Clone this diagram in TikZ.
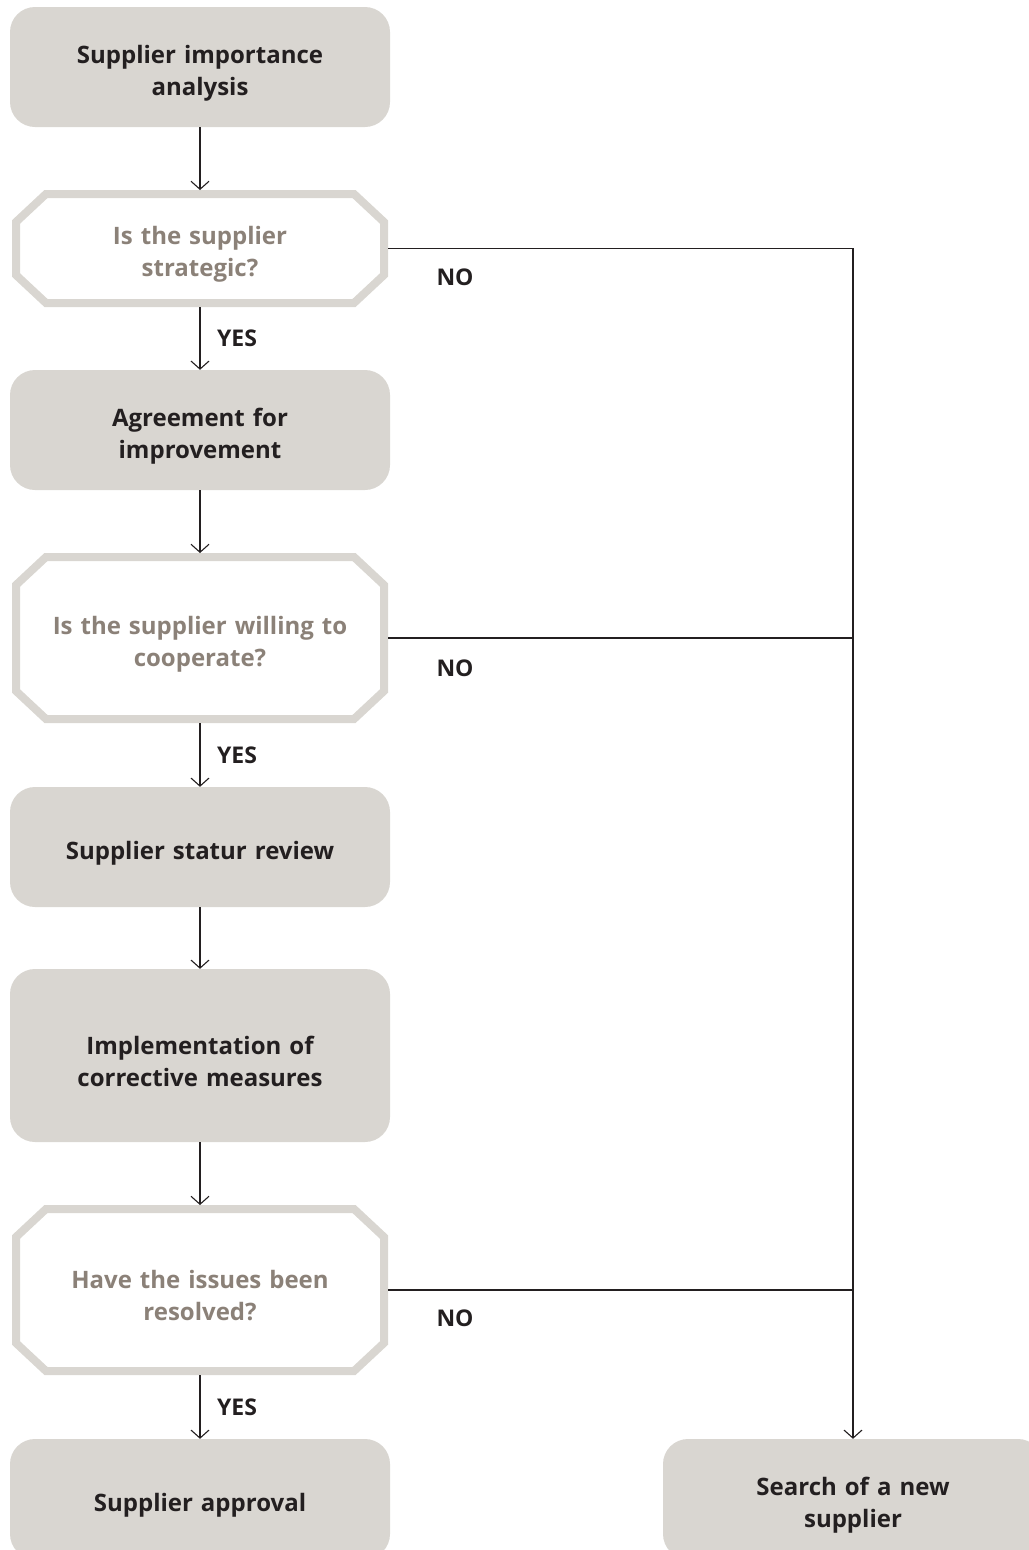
\documentclass[tikz,border=0pt]{standalone}
\usepackage{fontspec}
\setmainfont{Open Sans}
\usepackage{tikz}
\usetikzlibrary{arrows.meta,calc}
\definecolor{boxgray}{HTML}{D9D6D1}
\definecolor{ink}{HTML}{231F20}
\definecolor{question}{HTML}{8B8178}
\tikzset{
  stepbox/.style={fill=boxgray, rounded corners=25pt, minimum width=380pt,
    minimum height=120pt, text width=370pt, align=center, text=ink,
    font=\fontsize{24}{32}\selectfont\bfseries,
    execute at begin node={\rule{0pt}{30pt}}},
  decision/.style={minimum width=376pt, outer sep=0pt, text width=340pt,
    align=center, text=question, font=\fontsize{24}{32}\selectfont\bfseries,
    execute at begin node={\rule{0pt}{30pt}}},
  octagon/.style={draw=boxgray, line width=8pt, line join=miter},
  flow/.style={draw=ink, line width=1.1pt, -{Straight Barb[length=8pt,width=18pt,line width=1.1pt]}},
  branch/.style={draw=ink, line width=1.1pt},
  lab/.style={text=ink, font=\fontsize{23}{26}\selectfont\bfseries},
}
\begin{document}
\begin{tikzpicture}[x=1pt, y=-1pt]
  \useasboundingbox (0,0) rectangle (1028,1550);

  \node[stepbox] (import) at (200,67) {Supplier importance\\analysis};
  \node[decision, minimum height=117pt] (strategic) at (200,248.5) {Is the supplier\\strategic?};
  \node[stepbox] (agree) at (200,430) {Agreement for\\improvement};
  \node[decision, minimum height=170pt] (willing) at (200,638) {Is the supplier willing to\\cooperate?};
  \node[stepbox] (review) at (200,847) {Supplier statur review};
  \node[stepbox, minimum height=173pt] (measures) at (200,1055.5) {Implementation of\\corrective measures};
  \node[decision, minimum height=170pt] (resolved) at (200,1290) {Have the issues been\\resolved?};
  \node[stepbox] (approval) at (200,1499) {Supplier approval};
  \node[stepbox] (search) at (853,1499) {Search of a new\\supplier};

  % octagon outlines round the questions
  \foreach \q in {strategic,willing,resolved}{
    \draw[octagon] ($(\q.north west)+(34,4)$) -- ($(\q.north east)+(-34,4)$)
      -- ($(\q.north east)+(-4,32)$) -- ($(\q.south east)+(-4,-32)$)
      -- ($(\q.south east)+(-34,-4)$) -- ($(\q.south west)+(34,-4)$)
      -- ($(\q.south west)+(4,-32)$) -- ($(\q.north west)+(4,32)$) -- cycle;
  }

  % main column
  \draw[flow] (import) -- (strategic);
  \draw[flow] (strategic) -- (agree);
  \draw[flow] (agree) -- (willing);
  \draw[flow] (willing) -- (review);
  \draw[flow] (review) -- (measures);
  \draw[flow] (measures) -- (resolved);
  \draw[flow] (resolved) -- (approval);

  % NO branches
  \draw[flow] (strategic.east) -| (search.north);
  \draw[branch] (willing.east) -- (willing.east -| search.north);
  \draw[branch] (resolved.east) -- (resolved.east -| search.north);

  \node[lab] (yes1) at (237,338) {YES};
  \node[lab] (yes2) at (237,755) {YES};
  \node[lab] (yes3) at (237,1407) {YES};
  \node[lab] (no1) at (455,277) {NO};
  \node[lab] (no2) at (455,668) {NO};
  \node[lab] (no3) at (455,1318) {NO};
\end{tikzpicture}
\end{document}
